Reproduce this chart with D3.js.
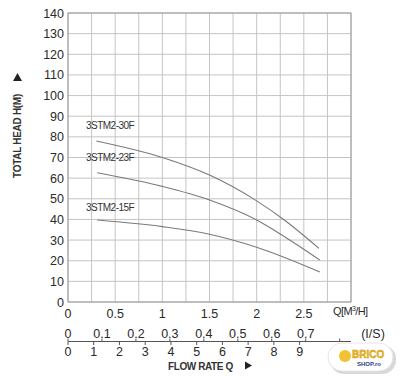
<!DOCTYPE html>
<html><head><meta charset="utf-8">
<script src="https://cdn.jsdelivr.net/npm/d3@7"></script>
<style>body{margin:0;background:#fff}svg{display:block}text{font-family:"Liberation Sans",Arial,sans-serif}</style>
</head><body><svg id="c" width="400" height="376"></svg>
<script>
const yTicks = [0,10,20,30,40,50,60,70,80,90,100,110,120,130,140];
const qTicks = [0,0.5,1,1.5,2,2.5];
const qTickLabels = ["0","0.5","1","1.5","2","2.5"];
const lsTicks = [0,0.1,0.2,0.3,0.4,0.5,0.6,0.7];
const gpmTicks = [0,1,2,3,4,5,6,7,8,9];
const seriesNames = ["3STM2-30F","3STM2-23F","3STM2-15F"];
const q30 = [0.30,1.00,1.50,2.00,2.30,2.66];
const h30 = [78,70,61.5,49,39.5,26];
const q23 = [0.31,1.00,1.50,2.00,2.30,2.67];
const h23 = [62.6,56,49.4,39.7,31.5,20.3];
const q15 = [0.31,1.00,1.50,2.00,2.67];
const h15 = [39.7,36.5,32.8,26.5,14.5];
const labelPos = [[0.19,84],[0.19,68.5],[0.19,44]];

const svg = d3.select("#c");
const x = d3.scaleLinear([0,3],[68,351]);
const y = d3.scaleLinear([0,140],[302,13]);
const xls = d3.scaleLinear([0,3/3.6],[68,351]);
const xgp = d3.scaleLinear([0,3/0.2728],[68,351]);
const txt = "#2a2a2a";

// grid
const g = svg.append("g");
g.selectAll(".h").data(yTicks).join("line")
  .attr("x1",x(0)).attr("x2",x(3)).attr("y1",d=>y(d)).attr("y2",d=>y(d))
  .attr("stroke","#c4c4c4").attr("stroke-width",1);
g.selectAll(".v").data(d3.range(0,3.001,0.25)).join("line")
  .attr("x1",d=>x(d)).attr("x2",d=>x(d)).attr("y1",y(0)).attr("y2",y(140))
  .attr("stroke","#c4c4c4").attr("stroke-width",1);
g.append("rect").attr("x",x(0)).attr("y",y(140)).attr("width",x(3)-x(0)).attr("height",y(0)-y(140))
  .attr("fill","none").attr("stroke","#9a9a9a").attr("stroke-width",1);

// y labels
svg.selectAll(".yl").data(yTicks).join("text")
  .attr("x",64).attr("y",d=>y(d)+4.5).attr("text-anchor","end")
  .attr("font-size",12.5).attr("fill",txt).text(d=>d);

// x labels
svg.selectAll(".xl").data(qTicks).join("text")
  .attr("x",d=>x(d)).attr("y",318).attr("text-anchor","middle")
  .attr("font-size",12.5).attr("fill",txt).text((d,i)=>qTickLabels[i]);
svg.append("text").attr("x",333).attr("y",315).attr("font-size",11).attr("fill",txt)
  .attr("letter-spacing",-0.6).html('Q[M<tspan dy="-4" font-size="7">3</tspan><tspan dy="4">/H]</tspan>');

// l/s labels
svg.selectAll(".ls").data(lsTicks).join("text")
  .attr("x",d=>xls(d)).attr("y",338).attr("text-anchor","middle")
  .attr("font-size",12.5).attr("fill",txt).text(d=>d===0?"0":d3.format(".1f")(d));
svg.append("text").attr("x",373).attr("y",338).attr("text-anchor","middle")
  .attr("font-size",12.5).attr("fill",txt).text("(I/S)");

// gpm axis
svg.append("line").attr("x1",68).attr("x2",351).attr("y1",341.5).attr("y2",341.5)
  .attr("stroke","#555").attr("stroke-width",1);
svg.selectAll(".gt").data(gpmTicks).join("line")
  .attr("x1",d=>xgp(d)).attr("x2",d=>xgp(d)).attr("y1",341.5).attr("y2",345)
  .attr("stroke","#555");
svg.selectAll(".lt").data(lsTicks.concat([0.8])).join("line")
  .attr("x1",d=>xls(d)).attr("x2",d=>xls(d)).attr("y1",338.5).attr("y2",341.5)
  .attr("stroke","#555");
svg.selectAll(".gl").data(gpmTicks).join("text")
  .attr("x",d=>xgp(d)).attr("y",356).attr("text-anchor","middle")
  .attr("font-size",12.5).attr("fill",txt).text(d=>d);

svg.append("text").attr("x",168).attr("y",370).attr("font-size",10).attr("font-weight","bold")
  .attr("letter-spacing",-0.4).attr("fill","#333").text("FLOW RATE Q");
svg.append("path").attr("d","M245,361.5 L252,365.5 L245,369.5 Z").attr("fill","#222");

// y title
svg.append("text").attr("transform","translate(21,136) rotate(-90)").attr("text-anchor","middle")
  .attr("font-size",10).attr("font-weight","bold").attr("letter-spacing",-0.3).attr("fill","#333").text("TOTAL HEAD H(M)");
svg.append("path").attr("d","M13,81 L17.5,73 L22,81 Z").attr("fill","#222");

// curves
const line = d3.line().x(d=>x(d[0])).y(d=>y(d[1])).curve(d3.curveMonotoneX);
[[q30,h30],[q23,h23],[q15,h15]].forEach(([q,h],i)=>{
  svg.append("path").attr("d",line(q.map((v,j)=>[v,h[j]])))
    .attr("fill","none").attr("stroke","#7a7a7a").attr("stroke-width",1.1);
  svg.append("text").attr("x",x(labelPos[i][0])).attr("y",y(labelPos[i][1]))
    .attr("font-size",10).attr("letter-spacing",-0.5).attr("fill","#333").text(seriesNames[i]);
});

// logo watermark
const lg = svg.append("g");
lg.append("rect").attr("x",330).attr("y",345).attr("width",66).attr("height",29).attr("rx",14)
  .attr("fill","#d8d8d8");
lg.append("rect").attr("x",328).attr("y",343).attr("width",65).attr("height",28).attr("rx",14)
  .attr("fill","#fff").attr("stroke","#e6e6e6");
lg.append("circle").attr("cx",345).attr("cy",356).attr("r",6).attr("fill","#f2c230");
lg.append("text").attr("x",352).attr("y",358).attr("font-size",10).attr("font-weight","bold")
  .attr("fill","#f2c230").attr("stroke","#c98a00").attr("stroke-width",0.4).text("BRICO");
lg.append("text").attr("x",357).attr("y",365.5).attr("font-size",6).attr("font-weight","bold")
  .attr("fill","#2b3a8c").text("SHOP.ro");
</script></body></html>
